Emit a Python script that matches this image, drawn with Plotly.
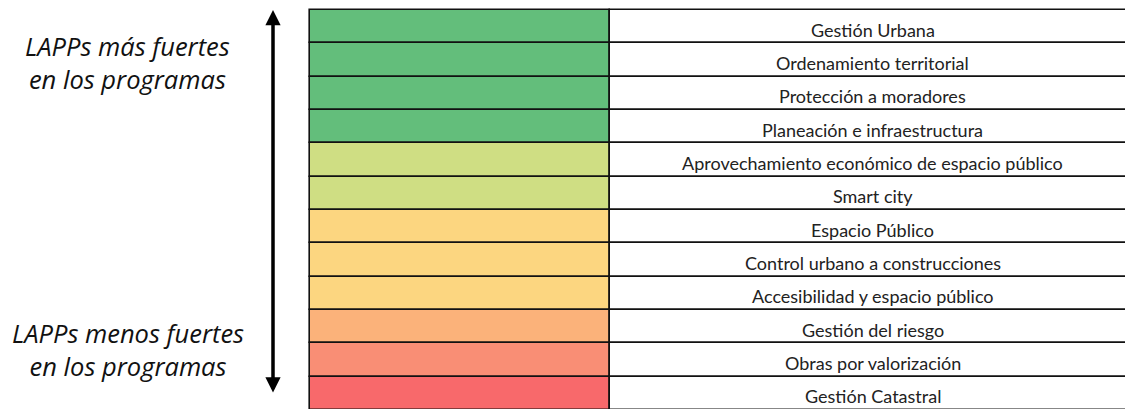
import plotly.graph_objects as go

categories = [
    "Gestión Urbana",
    "Ordenamiento territorial",
    "Protección a moradores",
    "Planeación e infraestructura",
    "Aprovechamiento económico de espacio público",
    "Smart city",
    "Espacio Público",
    "Control urbano a construcciones",
    "Accesibilidad y espacio público",
    "Gestión del riesgo",
    "Obras por valorización",
    "Gestión Catastral",
]
row_colors = [
    "#63BE7B", "#63BE7B", "#63BE7B", "#63BE7B",
    "#CFDE83", "#CFDE83",
    "#FCD680", "#FCD680", "#FCD680",
    "#FBB27A", "#F98E75", "#F8696B",
]
color_col_width = [1.0] * len(categories)
label_col_width = [1.75] * len(categories)
top_label = "<i>LAPPs más fuertes<br>en los programas</i>"
bottom_label = "<i>LAPPs menos fuertes<br>en los programas</i>"

W, H = 1125, 409
FONT = "Lato"
SIDE_FONT = "Open Sans"

fig = go.Figure()
fig.add_trace(go.Bar(
    orientation="h", y=categories, x=color_col_width, base=0,
    marker=dict(color=row_colors, line=dict(color="#111111", width=1.6)),
    hoverinfo="skip", showlegend=False,
))
fig.add_trace(go.Bar(
    orientation="h", y=categories, x=label_col_width, base=color_col_width,
    marker=dict(color="white", line=dict(color="#111111", width=1.6)),
    hoverinfo="skip", showlegend=False,
))

annotations = []
for cat, b, w in zip(categories, color_col_width, label_col_width):
    annotations.append(dict(
        x=b + w / 2, y=cat, xref="x", yref="y", text=cat, showarrow=False,
        font=dict(family=FONT, size=18, color="#222222"), yshift=-3,
    ))

annotations.append(dict(
    x=127 / W, y=1 - 62 / H, xref="paper", yref="paper", text=top_label,
    showarrow=False, align="center", xanchor="center", yanchor="middle",
    font=dict(family=SIDE_FONT, size=25.5, color="#111111"),
))
annotations.append(dict(
    x=128 / W, y=1 - 349 / H, xref="paper", yref="paper", text=bottom_label,
    showarrow=False, align="center", xanchor="center", yanchor="middle",
    font=dict(family=SIDE_FONT, size=25.5, color="#111111"),
))
annotations.append(dict(
    x=273 / W, y=1 - 10 / H, xref="paper", yref="paper", text="",
    showarrow=True, ax=0, ay=384, axref="pixel", ayref="pixel",
    arrowhead=2, startarrowhead=2, arrowside="end+start",
    arrowwidth=3.5, arrowsize=0.87, startarrowsize=0.87, arrowcolor="black",
))

fig.update_layout(
    width=W, height=H, margin=dict(l=0, r=0, t=0, b=0),
    paper_bgcolor="white", plot_bgcolor="white",
    barmode="overlay", bargap=0,
    xaxis=dict(range=[-310 / 300, (W - 310) / 300], visible=False, fixedrange=True),
    yaxis=dict(range=[(H - 10) / (400 / 12) - 0.5, -10 / (400 / 12) - 0.5],
               visible=False, fixedrange=True),
    annotations=annotations,
    showlegend=False,
)

fig.write_html(
    "out.html",
    config={"displayModeBar": False},
    post_script="document.body.style.margin='0';document.body.style.overflow='hidden';",
)
